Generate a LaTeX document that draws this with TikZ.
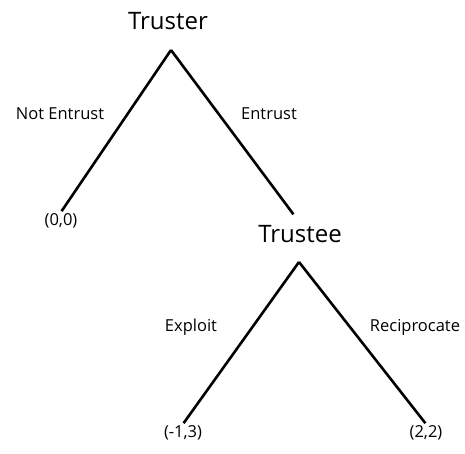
\documentclass[tikz,border=0pt]{standalone}
\usepackage{fontspec}
\setmainfont{Open Sans}
\usetikzlibrary{positioning}

\begin{document}
\begin{tikzpicture}[x=1pt, y=-1pt,
    player/.style={font=\fontsize{24}{28}\selectfont, inner sep=2pt},
    move/.style={font=\fontsize{16.5}{19}\selectfont},
    payoff/.style={font=\fontsize{16.5}{19}\selectfont, inner sep=1pt},
    branch/.style={line width=2.6pt}]
            \useasboundingbox (0,0) rectangle (465,453);

            % players
            \node[player] (truster) at (168,21) {Truster};
            \node[player] (trustee) at (300,234) {Trustee};
            \coordinate (root) at (171,50);
            \coordinate (sub) at (299,262);

            % payoffs
            \node[payoff, anchor=north] (p00) at (61,212) {(0,0)};
            \node[payoff, anchor=north] (p13) at (183,424) {(-1,3)};
            \node[payoff, anchor=north] (p22) at (426,424) {(2,2)};

            % branches
            \draw[branch, shorten >=1pt] (root) -- (p00.north);
            \draw[branch, shorten >=11pt] (root) -- (trustee.north);
            \draw[branch, shorten >=1pt] (sub) -- (p13.north);
            \draw[branch, shorten >=1pt] (sub) -- (p22.north);

            % moves
            \node[move] (notentrust) at (60,114) {Not Entrust};
            \node[move] (entrust) at (269,114) {Entrust};
            \node[move] (exploit) at (191,327) {Exploit};
            \node[move] (recip) at (415,327) {Reciprocate};
        \end{tikzpicture}
\end{document}
